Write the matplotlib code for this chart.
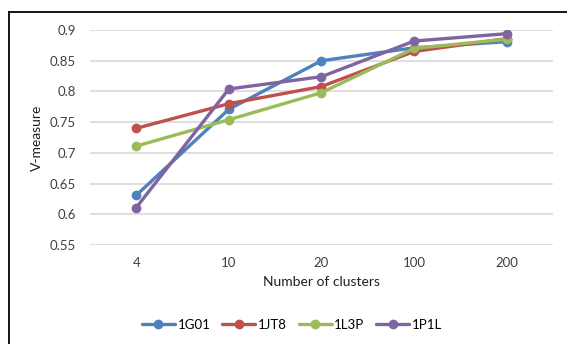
import matplotlib
matplotlib.use('Agg')
import matplotlib.pyplot as plt
from matplotlib.lines import Line2D

plt.rcParams['font.family'] = ['Lato', 'DejaVu Sans']

# V-measure per number of clusters for each protein
clusters = ['4', '10', '20', '100', '200']
g01 = [0.631, 0.771, 0.850, 0.871, 0.881]
jt8 = [0.740, 0.780, 0.808, 0.865, 0.886]
l3p = [0.711, 0.754, 0.798, 0.870, 0.885]
p1l = [0.611, 0.804, 0.824, 0.882, 0.894]
names = ['1G01', '1JT8', '1L3P', '1P1L']
colors = ['#4F81BD', '#C0504D', '#9BBB59', '#8064A2']
yticks = [0.55, 0.6, 0.65, 0.7, 0.75, 0.8, 0.85, 0.9]

fig = plt.figure(figsize=(5.67, 3.44), dpi=100)
ax = fig.add_axes([0.1587, 0.2878, 0.8166, 0.625])

x = list(range(len(clusters)))
for vals, name, c in zip([g01, jt8, l3p, p1l], names, colors):
    ax.plot(x, vals, color=c, lw=2.4, marker='o', ms=6, label=name,
            solid_capstyle='round', zorder=3)

ax.set_xlim(-0.5, len(clusters) - 0.5)
ax.set_ylim(0.55, 0.9)
ax.set_yticks(yticks)
ax.set_yticklabels(['0.55', '0.6', '0.65', '0.7', '0.75', '0.8', '0.85', '0.9'])
ax.set_xticks(x)
ax.set_xticklabels(clusters)
ax.grid(axis='y', color='#D9D9D9', lw=1.2, zorder=0)
for s in ax.spines.values():
    s.set_visible(False)
ax.tick_params(axis='both', length=0, labelsize=9.5, colors='#404040')
ax.tick_params(axis='y', pad=10)
ax.tick_params(axis='x', pad=9)

ax.set_xlabel('Number of clusters', fontsize=10, color='#202020', labelpad=5)
ax.set_ylabel('V-measure', fontsize=10, color='#202020', labelpad=5)

ax.legend(loc='center', bbox_to_anchor=(292 / 567, 1 - 325 / 344),
          bbox_transform=fig.transFigure, ncol=4, frameon=False,
          fontsize=9.5, handlelength=2.5, columnspacing=0.9, handletextpad=0.2)

# chart frame (left and top edges)
fig.add_artist(Line2D([9 / 567, 9 / 567], [0, 1 - 12 / 344], color='black', lw=1.3))
fig.add_artist(Line2D([9 / 567, 1], [1 - 12 / 344, 1 - 12 / 344], color='black', lw=1.3))

fig.savefig('out.png', dpi=100)
